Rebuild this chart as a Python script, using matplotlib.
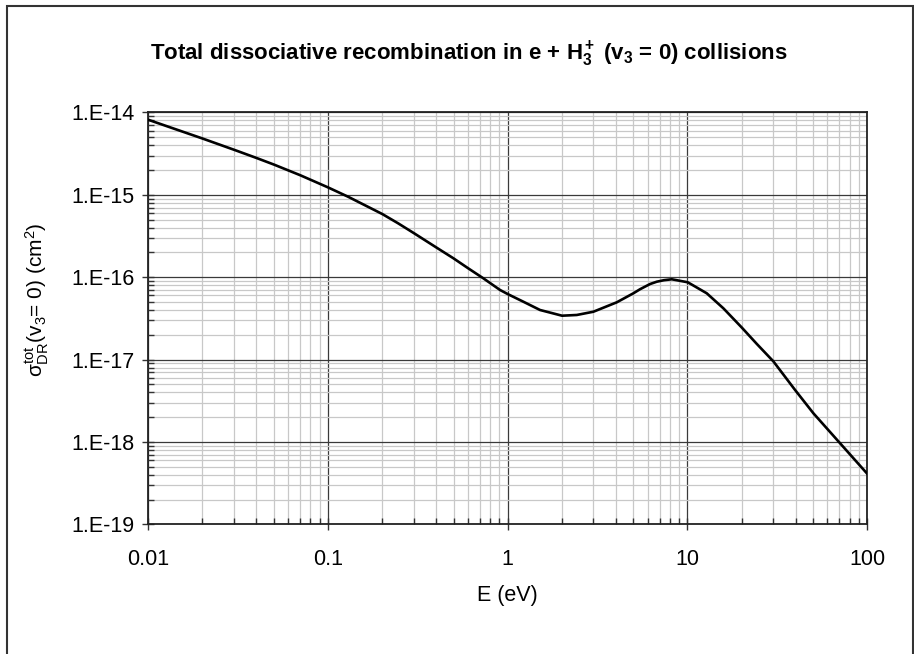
import numpy as np
import matplotlib
matplotlib.use("Agg")
import matplotlib.pyplot as plt
from matplotlib.ticker import LogLocator, FuncFormatter, NullFormatter
from matplotlib.patches import Rectangle

plt.rcParams['font.family'] = ['Liberation Sans', 'DejaVu Sans']
plt.rcParams['mathtext.fontset'] = 'custom'
plt.rcParams['mathtext.rm'] = 'Liberation Sans'
plt.rcParams['mathtext.it'] = 'Liberation Sans'
plt.rcParams['mathtext.bf'] = 'Liberation Sans:bold'
plt.rcParams['mathtext.sf'] = 'Liberation Sans'

# Data
energy_eV = [0.01, 0.02, 0.0304, 0.0402, 0.0502, 0.0703, 0.1, 0.1295, 0.2009,
             0.2457, 0.3016, 0.4034, 0.4989, 0.6044, 0.7324, 0.9072, 1.0, 1.223,
             1.514, 2.007, 2.423, 2.997, 4.045, 5.002, 5.449, 6.194, 6.75, 7.4,
             8.18, 10.04, 12.8, 15.84, 20.04, 24.29, 30.05, 39.68, 50.13, 70.6,
             100.0]
sigma_cm2 = [8.18e-15, 4.85e-15, 3.50e-15, 2.80e-15, 2.33e-15, 1.73e-15, 1.235e-15,
             9.5e-16, 5.85e-16, 4.52e-16, 3.42e-16, 2.28e-16, 1.70e-16, 1.28e-16,
             9.7e-17, 7.0e-17, 6.25e-17, 5.04e-17, 4.0e-17, 3.41e-17, 3.48e-17,
             3.81e-17, 4.96e-17, 6.38e-17, 7.15e-17, 8.27e-17, 8.82e-17, 9.2e-17,
             9.44e-17, 8.68e-17, 6.38e-17, 4.19e-17, 2.45e-17, 1.55e-17, 9.5e-18,
             4.27e-18, 2.23e-18, 9.63e-19, 4.1e-19]
x_ticks = [0.01, 0.1, 1, 10, 100]
y_ticks = [1e-19, 1e-18, 1e-17, 1e-16, 1e-15, 1e-14]

W, H = 914, 654
fig = plt.figure(figsize=(W / 100, H / 100), dpi=100)
ax = fig.add_axes([148 / W, 1 - 524.3 / H, (867.3 - 148) / W, (524.3 - 112.5) / H])

ax.plot(energy_eV, sigma_cm2, color='black', lw=1.9, solid_joinstyle='round',
        solid_capstyle='round', zorder=5)
ax.set_xscale('log')
ax.set_yscale('log')
ax.set_xlim(0.01, 100)
ax.set_ylim(1e-19, 1e-14)

ax.xaxis.set_minor_locator(LogLocator(base=10, subs=np.arange(2, 10), numticks=20))
ax.yaxis.set_minor_locator(LogLocator(base=10, subs=np.arange(2, 10), numticks=20))
ax.set_xticks(x_ticks)
ax.set_yticks(y_ticks)
ax.xaxis.set_major_formatter(FuncFormatter(lambda v, p: '%g' % v))
ax.yaxis.set_major_formatter(FuncFormatter(lambda v, p: '1.E%d' % int(round(np.log10(v)))))
ax.xaxis.set_minor_formatter(NullFormatter())
ax.yaxis.set_minor_formatter(NullFormatter())

ax.grid(which='major', color='#3a3a3a', lw=0.9)
ax.grid(which='minor', color='#c8c8c8', lw=0.9)
ax.set_axisbelow(True)

ax.tick_params(which='major', direction='inout', length=9, width=1, color='#333333',
               labelsize=15.5, pad=5)
ax.tick_params(which='minor', direction='in', length=4, width=1, color='#333333')
ax.tick_params(axis='x', which='major', pad=13)
for s in ax.spines.values():
    s.set_color('#222222')
    s.set_linewidth(1.3)

fig.text(469 / W, 1 - 54 / H,
         r'Total dissociative recombination in e + $\mathbf{H_3^+}$ (v$\mathbf{_3}$ = 0) collisions',
         ha='center', va='center', fontsize=16, fontweight='bold')
fig.text(37 / W, 1 - 300 / H,
         r'$\sigma^{\rm tot}_{\rm DR}$(v$_3$= 0) (cm$^2$)',
         rotation=90, ha='center', va='center', fontsize=15)
fig.text(507 / W, 1 - 596 / H, 'E (eV)', ha='center', va='center', fontsize=15.5)

fig.patches.append(Rectangle((7 / W, -0.05), (912.5 - 7) / W, 1 - 6 / H + 0.05,
                             transform=fig.transFigure, fill=False,
                             edgecolor='#333333', lw=1.5))

fig.savefig('out.png', dpi=100)
